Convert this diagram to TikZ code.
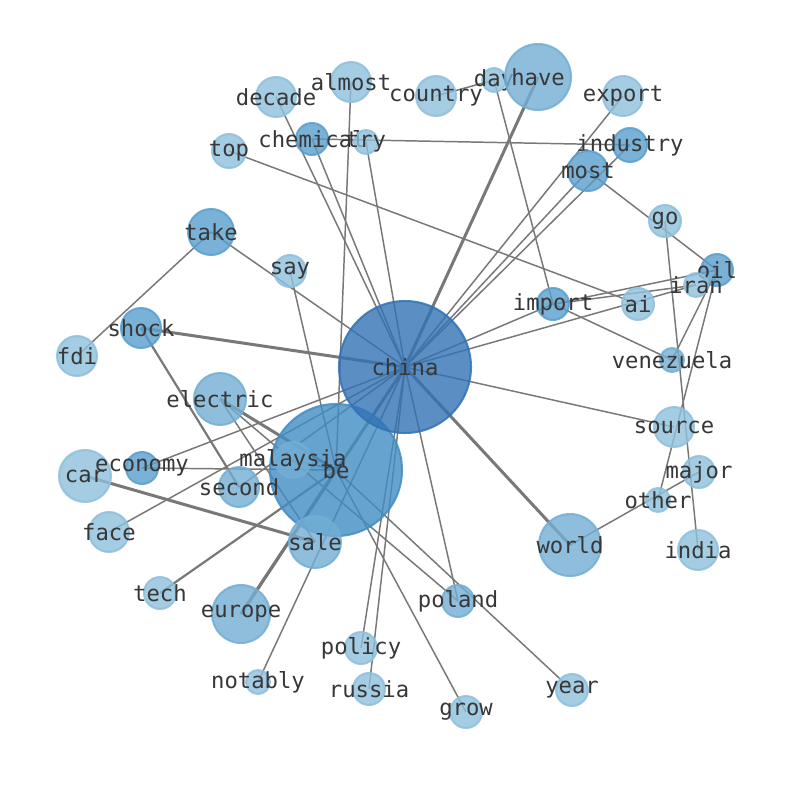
\documentclass[tikz,border=0pt]{standalone}
\usepackage{fontspec}
\newfontfamily\wordfont{DejaVu Sans Mono}
\usepackage{xcolor}
\definecolor{whub}{RGB}{50,114,181}
\definecolor{wbig}{RGB}{66,141,196}
\definecolor{wmid}{RGB}{89,159,205}
\definecolor{wsoft}{RGB}{114,174,212}
\definecolor{wlight}{RGB}{142,192,221}
\definecolor{wedge}{RGB}{120,120,120}
\definecolor{wtext}{RGB}{55,55,55}
\usetikzlibrary{backgrounds}

\tikzset{
  word/.style 2 args={circle, inner sep=0pt, minimum size=#1*0.05cm,
    fill=#2, draw=#2, fill opacity=0.8, draw opacity=0.85, line width=0.05cm},
  wlabel/.style={font=\wordfont\fontsize{15.8}{18}\selectfont, text=wtext,
    text opacity=1, inner sep=0pt},
  every label/.append style={wlabel},
  link/.style={draw=wedge, line width=0.037cm},
  midlink/.style={draw=wedge, line width=0.055cm},
  heavy/.style={draw=wedge, line width=0.075cm},
}

\begin{document}
\begin{tikzpicture}[x=0.025cm, y=-0.025cm]
\useasboundingbox (0,0) rectangle (794,790);

% --- hubs ---
\node[word={66}{wbig}, label=center:be] (be) at (336,470) {};
\node[word={66}{whub}, label=center:china] (china) at (405,367) {};

% --- top row ---
\node[word={20}{wlight}, label=center:decade] (decade) at (276,97) {};
\node[word={20}{wlight}, label=center:almost] (almost) at (351,82) {};
\node[word={20}{wlight}, label=center:country] (country) at (436,96) {};
\node[word={12}{wlight}, label=center:day] (day) at (494,80) {};
\node[word={33}{wsoft}, label=center:have] (have) at (538,77) {};
\node[word={20}{wlight}, label=center:export] (export) at (623,96) {};
\node[word={16}{wmid}, label=center:chemical] (chemical) at (312,139) {};
\node[word={12}{wlight}, label=center:try] (try) at (366,142) {};
\node[word={17}{wlight}, label=center:top] (top) at (229,151) {};
\node[word={17}{wmid}, label=center:industry] (industry) at (630,145) {};
\node[word={20}{wmid}, label=center:most] (most) at (588,171) {};

% --- left side ---
\node[word={23}{wmid}, label=center:take] (take) at (211,232) {};
\node[word={16}{wlight}, label=center:say] (say) at (290,271) {};
\node[word={20}{wmid}, label=center:shock] (shock) at (141,328) {};
\node[word={20}{wlight}, label=center:fdi] (fdi) at (77,356) {};
\node[word={26}{wsoft}, label=center:electric] (electric) at (220,399) {};
\node[word={26}{wlight}, label=center:car] (car) at (85,476) {};
\node[word={16}{wmid}, label=center:economy] (economy) at (142,468) {};
\node[word={20}{wsoft}, label=center:second] (second) at (239,487) {};
\node[word={18}{wsoft}, label=center:malaysia] (malaysia) at (293,460) {};
\node[word={20}{wlight}, label=center:face] (face) at (109,532) {};
\node[word={26}{wsoft}, label=center:sale] (sale) at (315,542) {};
\node[word={16}{wlight}, label=center:tech] (tech) at (160,593) {};
\node[word={29}{wsoft}, label=center:europe] (europe) at (241,614) {};

% --- bottom ---
\node[word={12}{wlight}, label=center:notably] (notably) at (258,682) {};
\node[word={16}{wlight}, label=center:policy] (policy) at (361,648) {};
\node[word={16}{wlight}, label=center:russia] (russia) at (369,689) {};
\node[word={16}{wlight}, label=center:grow] (grow) at (466,712) {};
\node[word={16}{wsoft}, label=center:poland] (poland) at (458,601) {};
\node[word={16}{wlight}, label=center:year] (year) at (572,690) {};
\node[word={31}{wsoft}, label=center:world] (world) at (570,545) {};

% --- right side ---
\node[word={16}{wlight}, label=center:go] (go) at (665,221) {};
\node[word={16}{wmid}, label=center:oil] (oil) at (717,270) {};
\node[word={12}{wlight}, label=center:iran] (iran) at (696,285) {};
\node[word={16}{wlight}, label=center:ai] (ai) at (638,304) {};
\node[word={16}{wmid}, label=center:import] (import) at (553,304) {};
\node[word={12}{wsoft}, label=center:venezuela] (venezuela) at (672,360) {};
\node[word={20}{wlight}, label=center:source] (source) at (674,427) {};
\node[word={16}{wlight}, label=center:major] (major) at (699,472) {};
\node[word={12}{wlight}, label=center:other] (other) at (658,500) {};
\node[word={20}{wlight}, label=center:india] (india) at (698,550) {};

% --- edges, under the circles ---
\begin{pgfonlayer}{background}
\fill[white] (0,0) rectangle (794,790);
\foreach \a/\b in {china/shock, china/have, china/world, be/electric,
                   sale/car, china/europe, be/europe}
  \draw[heavy] (\a.center) -- (\b.center);
\foreach \a/\b in {be/tech, shock/second}
  \draw[midlink] (\a.center) -- (\b.center);
\foreach \a/\b in {china/take, be/say, china/notably, china/decade,
                   china/chemical, be/almost, china/try, chemical/industry,
                   top/ai, day/import, country/day, china/export,
                   china/industry, china/most, most/oil, go/india,
                   import/oil, import/iran, china/import, china/iran,
                   import/venezuela, venezuela/oil, oil/other, china/source,
                   world/major, china/poland, electric/poland, be/year,
                   be/grow, china/policy, china/russia, electric/sale,
                   economy/be, economy/china, face/china, second/china,
                   fdi/take, malaysia/be}
  \draw[link] (\a.center) -- (\b.center);
\end{pgfonlayer}

\end{tikzpicture}
\end{document}
